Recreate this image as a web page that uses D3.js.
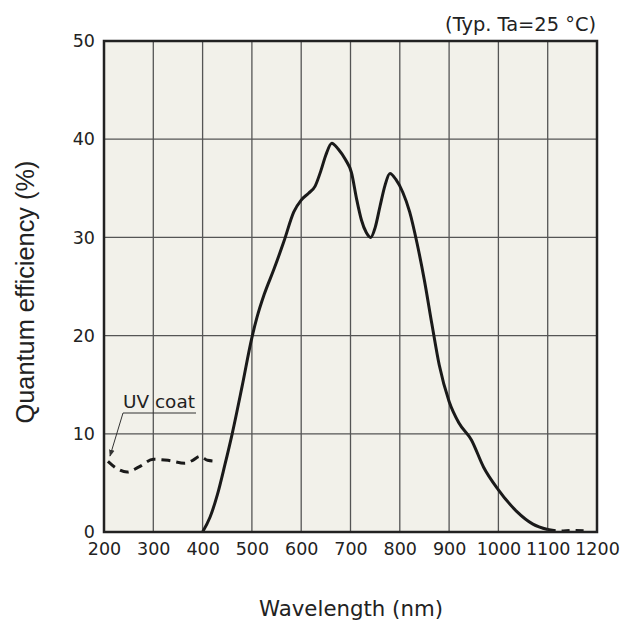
<!DOCTYPE html>
<html><head><meta charset="utf-8">
<script src="https://cdn.jsdelivr.net/npm/d3@7"></script>
<style>body{margin:0;background:#fff}text{font-family:"DejaVu Sans",Verdana,sans-serif;fill:#222}</style>
</head><body>
<svg id="c" width="624" height="628"></svg>
<script>
const xTicks = [200,300,400,500,600,700,800,900,1000,1100,1200];
const yTicks = [0,10,20,30,40,50];
const mainWl = [400,415,430,445,460,480,500,510,525,545,565,585,600,615,628,640,650,662,675,690,702,712,722,732,741,750,760,770,780,792,806,820,835,850,865,880,900,920,945,970,1000,1037,1070,1100];
const mainQe = [0,1.5,3.8,6.8,10,14.8,19.8,21.8,24.2,26.8,29.6,32.6,33.8,34.5,35.2,36.8,38.4,39.6,39.0,37.9,36.6,34.0,31.8,30.5,30.0,31.0,33.2,35.3,36.5,35.9,34.6,32.6,29.4,25.6,21.2,17.0,13.3,11.1,9.4,6.6,4.3,2.1,0.8,0.25];
const tailWl = [1100,1125,1150,1180];
const tailQe = [0.25,0.1,0.15,0.1];
const uvWl = [208,225,247,270,300,330,364,380,395,410,430];
const uvQe = [7.2,6.5,6.1,6.6,7.4,7.3,7.0,7.3,7.7,7.3,7.2];

const svg = d3.select("#c");
const L=104, R=597, T=41, B=532;
const x = d3.scaleLinear().domain([200,1200]).range([L,R]);
const y = d3.scaleLinear().domain([0,50]).range([B,T]);

function fit(sel, target){
  const n = sel.node(); const fs = parseFloat(n.style.fontSize);
  const w = n.getComputedTextLength(); sel.style("font-size", (fs*target/w).toFixed(2)+"px");
}

svg.append("rect").attr("x",L).attr("y",T).attr("width",R-L).attr("height",B-T).attr("fill","#f2f1ea");
const g = svg.append("g");
g.selectAll("line.v").data(xTicks.slice(1,-1)).join("line")
  .attr("x1",d=>x(d)).attr("x2",d=>x(d)).attr("y1",T).attr("y2",B)
  .attr("stroke","#555").attr("stroke-width",1.3);
g.selectAll("line.h").data(yTicks.slice(1,-1)).join("line")
  .attr("y1",d=>y(d)).attr("y2",d=>y(d)).attr("x1",L).attr("x2",R)
  .attr("stroke","#555").attr("stroke-width",1.3);

const line = d3.line().x(d=>x(d[0])).y(d=>y(d[1])).curve(d3.curveMonotoneX);
svg.append("path").attr("d",line(mainWl.map((w,i)=>[w,mainQe[i]])))
  .attr("fill","none").attr("stroke","#1a1a1a").attr("stroke-width",3).attr("stroke-linejoin","round");
svg.append("path").attr("d",line(tailWl.map((w,i)=>[w,tailQe[i]])))
  .attr("fill","none").attr("stroke","#1a1a1a").attr("stroke-width",3).attr("stroke-dasharray","8,6");
svg.append("path").attr("d",line(uvWl.map((w,i)=>[w,uvQe[i]])))
  .attr("fill","none").attr("stroke","#1a1a1a").attr("stroke-width",3).attr("stroke-dasharray","9,6");

svg.append("rect").attr("x",L).attr("y",T).attr("width",R-L).attr("height",B-T)
  .attr("fill","none").attr("stroke","#222").attr("stroke-width",2.5);

const xa = d3.axisBottom(x).tickValues(xTicks).tickFormat(d3.format("d")).tickSize(0).tickPadding(11);
const ya = d3.axisLeft(y).tickValues(yTicks).tickFormat(d3.format("d")).tickSize(0).tickPadding(9);
const gx = svg.append("g").attr("transform",`translate(0,${B})`).call(xa);
const gy = svg.append("g").attr("transform",`translate(${L},0)`).call(ya);
[gx,gy].forEach(a=>{a.select(".domain").remove();a.selectAll("text").style("font-size","17.5px").attr("fill","#222").style("font-family","DejaVu Sans, Verdana, sans-serif");});

const xt = svg.append("text").attr("x",351).attr("y",616).attr("text-anchor","middle").style("font-size","20px").text("Wavelength (nm)");
fit(xt,184);
const yt = svg.append("text").attr("transform","translate(34,292) rotate(-90)").attr("text-anchor","middle")
  .style("font-family","'Liberation Sans',Arial,sans-serif").style("font-size","20px").text("Quantum efficiency (%)");
fit(yt,263);
const tt = svg.append("text").attr("x",596).attr("y",31).attr("text-anchor","end").style("font-size","18px").text("(Typ. Ta=25 °C)");
fit(tt,151);

const uv = svg.append("text").attr("x",123).attr("y",408).style("font-size","18px").text("UV coat");
fit(uv,72);
svg.append("line").attr("x1",123).attr("x2",196).attr("y1",413).attr("y2",413).attr("stroke","#333").attr("stroke-width",1);
svg.append("defs").append("marker").attr("id","ah").attr("viewBox","0 0 10 10").attr("refX",9).attr("refY",5)
  .attr("markerWidth",7).attr("markerHeight",7).attr("orient","auto")
  .append("path").attr("d","M0,1 L10,5 L0,9 z").attr("fill","#333");
svg.append("line").attr("x1",123).attr("y1",413).attr("x2",110).attr("y2",456)
  .attr("stroke","#333").attr("stroke-width",1).attr("marker-end","url(#ah)");
</script>
</body></html>
